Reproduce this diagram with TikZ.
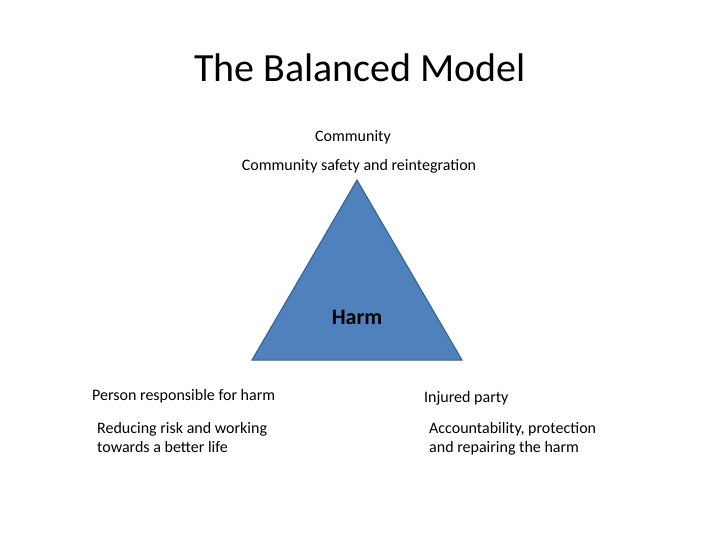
\documentclass[tikz,border=0pt]{standalone}
\usepackage{fontspec}
\setmainfont{Carlito}
\definecolor{tri}{HTML}{4F81BD}
\definecolor{triedge}{HTML}{385D8A}
\begin{document}
\begin{tikzpicture}[x=1pt,y=-1pt,
  lbl/.style={inner sep=0pt,font=\fontsize{16}{19.5}\selectfont,align=left},
  ctr/.style={inner sep=0pt,font=\fontsize{16}{19.5}\selectfont}]
\useasboundingbox[fill=white] (0,0) rectangle (720,540);
\node[inner sep=0pt,font=\fontsize{40}{48}\selectfont] (title) at (360,68) {The Balanced Model};
\coordinate (apex) at (357,180);
\coordinate (bl) at (252,360);
\coordinate (br) at (462,360);
\draw[fill=tri,draw=triedge,line width=1pt] (apex) -- (bl) -- (br) -- cycle;
\node[inner sep=0pt,font=\fontsize{22}{26}\selectfont\bfseries] (harm) at (357,317) {Harm};
\node[ctr] (comm) at (353,137) {Community};
\node[ctr] (commsub) at (359,166) {Community safety and reintegration};
\node[lbl,anchor=west] (person) at (92,396) {Person responsible for harm};
\node[lbl,anchor=north west] (personsub) at (97,422) {Reducing risk and working\\towards a better life};
\node[lbl,anchor=west] (injured) at (424,398) {Injured party};
\node[lbl,anchor=north west] (injuredsub) at (429,422) {Accountability, protection\\and repairing the harm};
\end{tikzpicture}
\end{document}
